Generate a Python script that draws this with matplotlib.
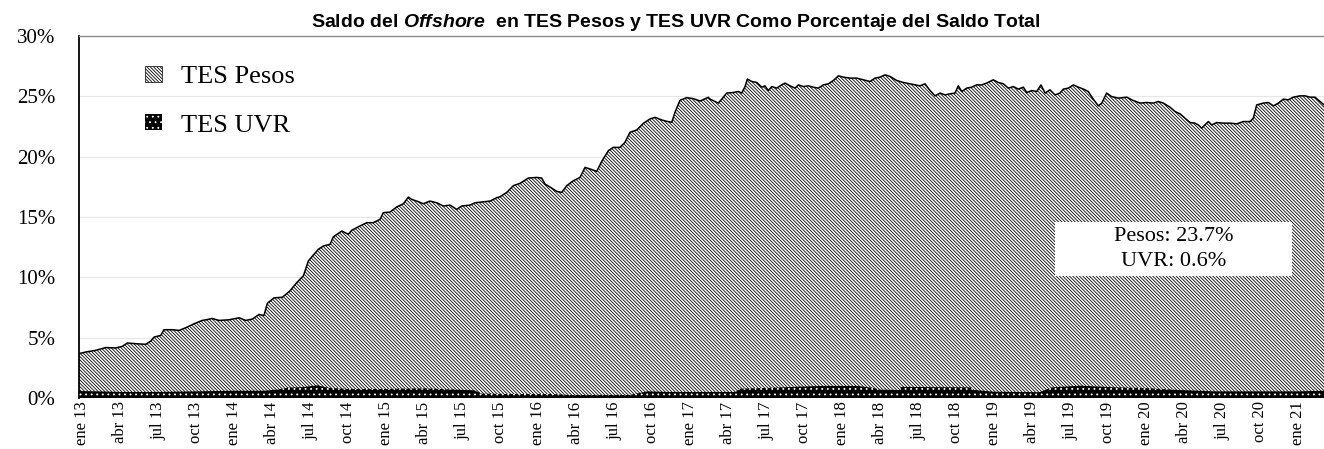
import matplotlib
matplotlib.use("Agg")
import matplotlib.pyplot as plt
from matplotlib.patches import Patch, Rectangle

plt.rcParams['hatch.linewidth'] = 0.6
plt.rcParams['mathtext.fontset'] = 'custom'
plt.rcParams['mathtext.it'] = 'Liberation Sans:italic:bold'
plt.rcParams['mathtext.rm'] = 'Liberation Sans:bold'
plt.rcParams['mathtext.bf'] = 'Liberation Sans:bold'

# Offshore holdings of TES (Pesos + UVR) as % of the total outstanding stock.
# Dates are decimal years.
t_total = [
    2012.980, 2013.024, 2013.090, 2013.156, 2013.222, 2013.265, 2013.298, 2013.353,
    2013.419, 2013.452, 2013.474, 2013.518, 2013.539, 2013.594, 2013.638, 2013.682,
    2013.737, 2013.791, 2013.824, 2013.857, 2013.901, 2013.967, 2014.033, 2014.077,
    2014.120, 2014.164, 2014.197, 2014.219, 2014.263, 2014.318, 2014.368, 2014.413,
    2014.456, 2014.489, 2014.511, 2014.555, 2014.588, 2014.632, 2014.653, 2014.709,
    2014.752, 2014.774, 2014.829, 2014.873, 2014.916, 2014.961, 2014.982, 2015.026,
    2015.070, 2015.114, 2015.147, 2015.169, 2015.213, 2015.245, 2015.289, 2015.334,
    2015.377, 2015.421, 2015.465, 2015.498, 2015.553, 2015.586, 2015.640, 2015.684,
    2015.728, 2015.750, 2015.794, 2015.838, 2015.882, 2015.936, 2015.991, 2016.024,
    2016.046, 2016.090, 2016.123, 2016.156, 2016.189, 2016.232, 2016.276, 2016.309,
    2016.342, 2016.386, 2016.419, 2016.463, 2016.495, 2016.539, 2016.572, 2016.605,
    2016.649, 2016.693, 2016.737, 2016.770, 2016.814, 2016.847, 2016.880, 2016.901,
    2016.934, 2016.978, 2017.022, 2017.066, 2017.120, 2017.132, 2017.164, 2017.186,
    2017.209, 2017.241, 2017.285, 2017.318, 2017.340, 2017.362, 2017.377, 2017.406,
    2017.439, 2017.472, 2017.493, 2017.515, 2017.538, 2017.570, 2017.603, 2017.625,
    2017.658, 2017.691, 2017.713, 2017.745, 2017.778, 2017.811, 2017.844, 2017.877,
    2017.910, 2017.943, 2017.976, 2018.009, 2018.053, 2018.097, 2018.140, 2018.184,
    2018.217, 2018.250, 2018.283, 2018.316, 2018.360, 2018.403, 2018.447, 2018.480,
    2018.513, 2018.546, 2018.579, 2018.612, 2018.645, 2018.678, 2018.711, 2018.743,
    2018.765, 2018.788, 2018.820, 2018.853, 2018.886, 2018.919, 2018.952, 2018.995,
    2019.028, 2019.061, 2019.094, 2019.127, 2019.160, 2019.193, 2019.215, 2019.248,
    2019.281, 2019.309, 2019.336, 2019.368, 2019.401, 2019.434, 2019.456, 2019.489,
    2019.522, 2019.555, 2019.588, 2019.620, 2019.653, 2019.686, 2019.709, 2019.741,
    2019.774, 2019.818, 2019.873, 2019.917, 2019.961, 2020.005, 2020.048, 2020.081,
    2020.114, 2020.158, 2020.191, 2020.224, 2020.257, 2020.289, 2020.322, 2020.344,
    2020.366, 2020.388, 2020.410, 2020.432, 2020.465, 2020.509, 2020.553, 2020.597,
    2020.640, 2020.684, 2020.706, 2020.728, 2020.772, 2020.805, 2020.838, 2020.871,
    2020.903, 2020.936, 2020.969, 2021.013, 2021.046, 2021.079, 2021.112, 2021.145,
    2021.171,
]
total_pct = [
    3.68, 3.81, 3.95, 4.18, 4.15, 4.28, 4.56, 4.50,
    4.45, 4.72, 5.05, 5.19, 5.66, 5.66, 5.60, 5.82,
    6.15, 6.43, 6.50, 6.59, 6.43, 6.48, 6.65, 6.43,
    6.54, 6.92, 6.84, 7.85, 8.30, 8.35, 8.88, 9.57,
    10.12, 11.36, 11.69, 12.33, 12.60, 12.74, 13.35, 13.84,
    13.57, 13.90, 14.26, 14.53, 14.53, 14.81, 15.36, 15.41,
    15.83, 16.10, 16.65, 16.46, 16.27, 16.10, 16.32, 16.18,
    15.91, 15.99, 15.63, 15.91, 15.99, 16.18, 16.26, 16.32,
    16.60, 16.68, 17.04, 17.60, 17.79, 18.23, 18.28, 18.23,
    17.73, 17.40, 17.12, 17.04, 17.60, 18.00, 18.28, 19.11,
    18.98, 18.78, 19.61, 20.50, 20.77, 20.77, 21.19, 22.02,
    22.21, 22.76, 23.13, 23.26, 23.04, 22.93, 22.85, 23.68,
    24.67, 24.89, 24.81, 24.61, 24.92, 24.77, 24.57, 24.44,
    24.77, 25.27, 25.32, 25.40, 25.27, 25.81, 26.43, 26.23,
    26.15, 25.76, 25.87, 25.48, 25.81, 25.68, 25.95, 26.10,
    25.87, 25.68, 25.95, 25.81, 25.87, 25.76, 25.68, 25.95,
    26.04, 26.31, 26.70, 26.59, 26.51, 26.51, 26.37, 26.23,
    26.51, 26.59, 26.78, 26.65, 26.31, 26.15, 26.04, 25.95,
    25.87, 26.04, 25.48, 25.04, 25.27, 25.12, 25.21, 25.27,
    25.87, 25.40, 25.68, 25.76, 25.95, 25.95, 26.10, 26.37,
    26.15, 26.04, 25.68, 25.81, 25.60, 25.76, 25.32, 25.48,
    25.40, 25.95, 25.27, 25.54, 25.12, 25.27, 25.60, 25.68,
    25.95, 25.76, 25.60, 25.40, 24.77, 24.21, 24.44, 25.27,
    24.98, 24.85, 24.93, 24.65, 24.44, 24.49, 24.44, 24.57,
    24.44, 24.10, 23.74, 23.55, 23.19, 22.83, 22.78, 22.63,
    22.36, 22.63, 22.91, 22.63, 22.83, 22.78, 22.78, 22.72,
    22.91, 22.91, 23.19, 24.29, 24.44, 24.49, 24.21, 24.44,
    24.77, 24.71, 24.93, 25.04, 25.04, 24.93, 24.93, 24.57,
    24.30,
]

# TES UVR share of the total stock (%)
t_uvr = [
    2012.980, 2013.100, 2013.250, 2013.500, 2013.750, 2014.000, 2014.200, 2014.280,
    2014.350, 2014.450, 2014.550, 2014.620, 2014.750, 2015.000, 2015.250, 2015.450,
    2015.580, 2015.630, 2015.800, 2016.100, 2016.200, 2016.600, 2016.720, 2016.850,
    2017.300, 2017.330, 2017.550, 2017.700, 2017.870, 2018.100, 2018.200, 2018.250,
    2018.380, 2018.390, 2018.600, 2018.850, 2018.870, 2019.000, 2019.300, 2019.380,
    2019.570, 2019.800, 2020.000, 2020.220, 2020.450, 2020.800, 2021.000, 2021.171,
]
uvr_pct = [
    0.58, 0.55, 0.50, 0.50, 0.55, 0.60, 0.60, 0.70,
    0.85, 0.90, 1.05, 0.85, 0.75, 0.75, 0.80, 0.70,
    0.64, 0.36, 0.33, 0.33, 0.25, 0.25, 0.55, 0.50,
    0.50, 0.78, 0.85, 0.93, 1.00, 1.00, 0.85, 0.70,
    0.66, 0.92, 0.90, 0.88, 0.66, 0.52, 0.48, 0.88,
    1.02, 0.88, 0.82, 0.66, 0.55, 0.55, 0.55, 0.60,
]

month_names = ['ene', 'abr', 'jul', 'oct']
first_year = 2013
n_quarters = 33
tick_pos = [first_year + 0.25 * k for k in range(n_quarters)]
tick_labels = [f"{month_names[k % 4]} {(first_year + k // 4) % 100:02d}"
               for k in range(n_quarters)]

pesos_last = total_pct[-1] - uvr_pct[-1]
uvr_last = uvr_pct[-1]

fig = plt.figure(figsize=(13.24, 4.49), dpi=100)
ax = fig.add_axes([79 / 1324, 1 - 398 / 449, 1245 / 1324, 362 / 449])
ax.set_xlim(2012.980, 2021.171)
ax.set_ylim(0, 30)

pesos_hatch = '\\' * 10
uvr_hatch = '.' * 3

ax.fill_between(t_total, 0, total_pct, facecolor='white', edgecolor='black',
                hatch=pesos_hatch, linewidth=0, zorder=2)
ax.plot(t_total, total_pct, color='black', lw=1.1, zorder=4)
ax.fill_between(t_uvr, 0, uvr_pct, facecolor='black', edgecolor='white',
                hatch=uvr_hatch, linewidth=0, zorder=3)

ax.set_yticks(range(0, 31, 5))
ax.set_yticklabels([f"{v}%" for v in range(0, 31, 5)],
                   fontfamily='Liberation Serif', fontsize=15)
ax.set_xticks(tick_pos)
ax.set_xticklabels(tick_labels, rotation=90, fontfamily='Liberation Serif',
                   fontsize=12)
ax.tick_params(axis='y', length=0, pad=17)
ax.tick_params(axis='x', length=0, pad=2.5)

ax.yaxis.grid(True, color='#e6e6e6', lw=0.8)
ax.set_axisbelow(True)

for side in ('right', 'bottom'):
    ax.spines[side].set_visible(False)
ax.spines['left'].set_color('black')
ax.spines['left'].set_linewidth(1.3)
ax.spines['top'].set_color('#8c8c8c')
ax.spines['top'].set_linewidth(1.0)

handles = [
    Patch(facecolor='white', edgecolor='black', hatch=pesos_hatch, lw=0.5,
          label='TES Pesos'),
    Patch(facecolor='black', edgecolor='white', hatch=uvr_hatch, lw=0,
          label='TES UVR'),
]
ax.legend(handles=handles, loc='upper left', bbox_to_anchor=(0.053, 0.918),
          frameon=False, prop={'family': 'Liberation Serif', 'size': 19},
          handlelength=0.65, handleheight=0.55, handletextpad=0.7,
          labelspacing=1.0, borderpad=0, borderaxespad=0)

ax.add_patch(Rectangle((0.784, 0.337), 0.1904, 0.149, transform=ax.transAxes,
                       facecolor='white', edgecolor='none', zorder=5))
ax.text(0.879, 0.4116, f"Pesos: {pesos_last:.1f}%\nUVR: {uvr_last:.1f}%",
        transform=ax.transAxes, ha='center', va='center',
        multialignment='center', fontsize=16, family='Liberation Serif',
        linespacing=1.45, zorder=6)

fig.text(676 / 1324, 1 - 27 / 449,
         r"Saldo del $Offshore$  en TES Pesos y TES UVR Como Porcentaje del Saldo Total",
         ha='center', va='baseline', fontsize=14, fontweight='bold',
         family='Liberation Sans')

fig.savefig('out.png', dpi=100)
